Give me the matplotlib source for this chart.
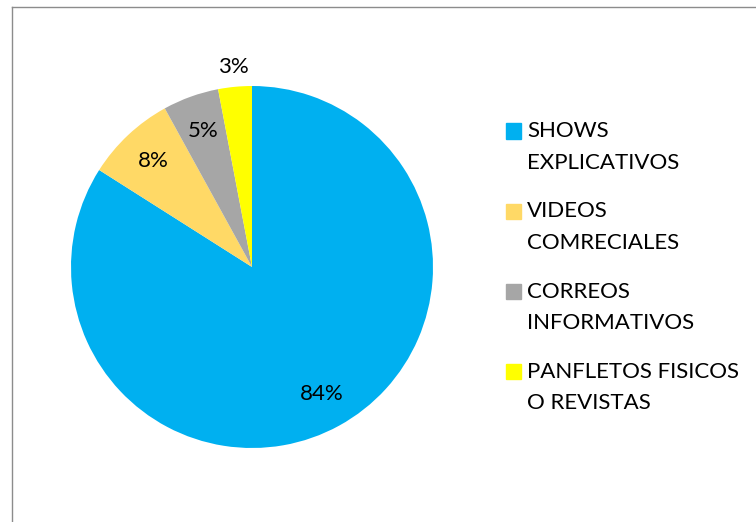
import matplotlib.pyplot as plt
from matplotlib.patches import Rectangle
from matplotlib.lines import Line2D

plt.rcParams['font.family'] = ['Lato', 'DejaVu Sans']

# survey shares
categories = ["SHOWS\nEXPLICATIVOS", "VIDEOS\nCOMRECIALES",
              "CORREOS\nINFORMATIVOS", "PANFLETOS FISICOS\nO REVISTAS"]
shares = [84, 8, 5, 3]
colors = ["#00B0F0", "#FFD966", "#A6A6A6", "#FFFF00"]

W, H = 756, 522
fig = plt.figure(figsize=(W / 100, H / 100), dpi=100)

# pie centre and radius in pixels (from top-left)
cx, cy, r = 252, 267, 181
ax = fig.add_axes([(cx - r) / W, (H - cy - r) / H, 2 * r / W, 2 * r / H])

wedges, texts, autotexts = ax.pie(
    shares, colors=colors, startangle=90, counterclock=False,
    autopct='%1.0f%%', pctdistance=0.8, radius=1,
    textprops=dict(fontsize=16, color='black'),
    wedgeprops=dict(linewidth=0))
ax.set_xlim(-1, 1)
ax.set_ylim(-1, 1)

# smallest slice gets its label outside the pie
small = autotexts[-1]
x, y = small.get_position()
small.set_position((x * 1.11 / 0.8, y * 1.11 / 0.8))

# legend drawn by hand
lx, ly0, step, line_h, box = 506, 131, 80.3, 31.5, 15
for i, (lab, col) in enumerate(zip(categories, colors)):
    ly = ly0 + i * step
    fig.patches.append(Rectangle((lx / W, 1 - (ly + box / 2) / H), box / W, box / H,
                                 transform=fig.transFigure, color=col))
    for j, part in enumerate(lab.split("\n")):
        fig.text(527 / W, 1 - (ly + j * line_h) / H, part, fontsize=16,
                 va='center', ha='left')

# chart frame (left and top edges)
fig.add_artist(Line2D([11.5 / W, 11.5 / W], [0, 1 - 7 / H], transform=fig.transFigure,
                      color='#8C8C8C', lw=1))
fig.add_artist(Line2D([11.5 / W, 1], [1 - 7 / H, 1 - 7 / H], transform=fig.transFigure,
                      color='#8C8C8C', lw=1))

fig.savefig('out.png', dpi=100)
